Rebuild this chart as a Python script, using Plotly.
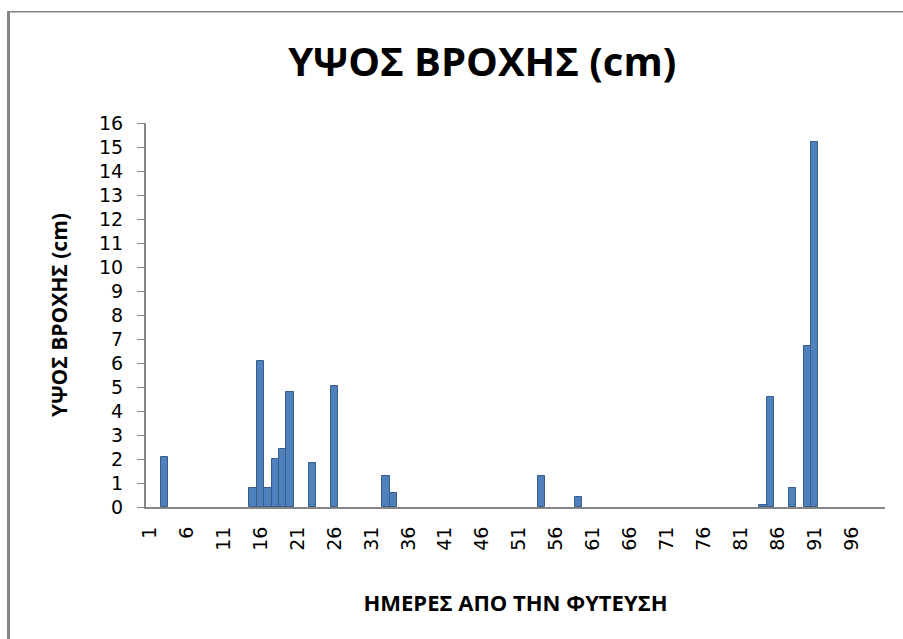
import plotly.graph_objects as go

# Data
days = [3, 15, 16, 17, 18, 19, 20, 23, 26, 33, 34, 54, 59, 84, 85, 88, 90, 91]
rain_cm = [2.1, 0.8, 6.1, 0.8, 2.0, 2.4, 4.8, 1.85, 5.05, 1.3, 0.6, 1.3, 0.4, 0.1, 4.6, 0.8, 6.7, 15.2]
x_tick_vals = list(range(1, 97, 5))
x_tick_text = [str(v) for v in x_tick_vals]
y_tick_vals = list(range(0, 17))

title_text = "ΥΨΟΣ ΒΡΟΧΗΣ (cm)"
x_title = "ΗΜΕΡΕΣ ΑΠΟ ΤΗΝ ΦΥΤΕΥΣΗ"
y_title = "ΥΨΟΣ ΒΡΟΧΗΣ (cm)"

W, H = 903, 639
L, R, T, B = 146, 18, 123, 132
pw, ph = W - L - R, H - T - B

def px2paper_x(px):
    return (px - L) / pw

def px2paper_y(py):
    return (H - B - py) / ph

fig = go.Figure()
fig.add_trace(go.Bar(
    x=days, y=rain_cm, width=1.0,
    marker=dict(color="#4F81BD", line=dict(color="#385D8A", width=1)),
    showlegend=False,
))

grey = "#868686"
fig.update_layout(
    width=W, height=H,
    margin=dict(l=L, r=R, t=T, b=B),
    paper_bgcolor="white", plot_bgcolor="white",
    bargap=0,
    title=dict(text=title_text, x=0.534, xref="container", xanchor="center",
               y=1 - 62 / H, yref="container", yanchor="middle",
               font=dict(family="Open Sans", size=40, color="black", weight="bold")),
    xaxis=dict(range=[0.5, 100.5], tickmode="array", tickvals=x_tick_vals, ticktext=x_tick_text,
               tickangle=-90, showgrid=False, zeroline=False, showline=True,
               linecolor=grey, linewidth=2, ticks="", ticklabelstandoff=10,
               tickfont=dict(family="DejaVu Sans", size=19, color="black"),
               title=dict(text=x_title, standoff=46,
                          font=dict(family="Open Sans", size=22, color="black", weight="bold"))),
    yaxis=dict(range=[0, 16], tickmode="array", tickvals=y_tick_vals,
               showgrid=False, zeroline=False, showline=True,
               linecolor=grey, linewidth=2, ticks="outside", ticklen=7, tickcolor=grey, tickwidth=1,
               ticklabelstandoff=10,
               tickfont=dict(family="DejaVu Sans", size=19, color="black"),
               title=dict(text=y_title, standoff=26,
                          font=dict(family="Open Sans", size=21, color="black", weight="bold"))),
    shapes=[
        dict(type="line", xref="paper", yref="paper",
             x0=px2paper_x(8.5), x1=px2paper_x(8.5), y0=px2paper_y(700), y1=px2paper_y(11.7),
             line=dict(color=grey, width=3)),
        dict(type="line", xref="paper", yref="paper",
             x0=px2paper_x(7), x1=px2paper_x(960), y0=px2paper_y(11.7), y1=px2paper_y(11.7),
             line=dict(color=grey, width=1.5)),
    ],
)

fig.write_html("out.html")
